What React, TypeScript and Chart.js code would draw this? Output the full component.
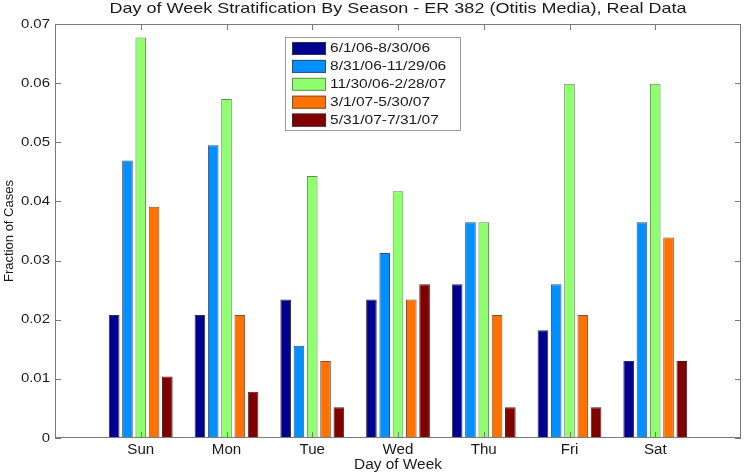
import React, { useEffect, useRef } from 'react';
import { Chart, registerables } from 'chart.js';

Chart.register(...registerables);

const days = ['Sun', 'Mon', 'Tue', 'Wed', 'Thu', 'Fri', 'Sat'];
const seasonLabels = ['6/1/06-8/30/06', '8/31/06-11/29/06', '11/30/06-2/28/07', '3/1/07-5/30/07', '5/31/07-7/31/07'];
const summer06 = [0.0208, 0.0208, 0.0234, 0.0234, 0.026, 0.0182, 0.013];
const fall06 = [0.0469, 0.0495, 0.0156, 0.0313, 0.0365, 0.026, 0.0365];
const winter07 = [0.0677, 0.0573, 0.0443, 0.0417, 0.0365, 0.0599, 0.0599];
const spring07 = [0.0391, 0.0208, 0.013, 0.0234, 0.0208, 0.0208, 0.0339];
const summer07 = [0.0104, 0.0078, 0.0052, 0.026, 0.0052, 0.0052, 0.013];
const yTicks = [0, 0.01, 0.02, 0.03, 0.04, 0.05, 0.06, 0.07];
const seriesColors = ['#00008F', '#0090FF', '#8FFF6F', '#FF7200', '#800000'];
const seriesBorders = ['#303050', '#305070', '#609050', '#805030', '#502020'];

const titleText = 'Day of Week Stratification By Season - ER 382 (Otitis Media), Real Data';
const xTitle = 'Day of Week';
const yTitle = 'Fraction of Cases';

const FONT = '"Liberation Sans", Arial, Helvetica, sans-serif';

function sText(ctx: CanvasRenderingContext2D, t: string, x: number, y: number, align: CanvasTextAlign, size: number, sx: number) {
  ctx.save();
  ctx.translate(x, y);
  ctx.scale(sx, 1);
  ctx.font = `${size}px ${FONT}`;
  ctx.textAlign = align;
  ctx.textBaseline = 'middle';
  ctx.fillStyle = '#1a1a1a';
  ctx.fillText(t, 0, 0);
  ctx.restore();
}

const decorPlugin = {
  id: 'matlabDecor',
  afterDraw(chart: any) {
    const { ctx, chartArea: a, scales } = chart;
    const xs = scales.x;
    const ys = scales.y;
    ctx.save();
    // box
    ctx.strokeStyle = '#7a7a7a';
    ctx.lineWidth = 1;
    ctx.strokeRect(a.left + 0.5, a.top + 0.5, a.right - a.left - 1, a.bottom - a.top - 1);
    // inward ticks
    ctx.beginPath();
    days.forEach((_, i) => {
      const px = Math.round(xs.getPixelForValue(i + 1)) + 0.5;
      ctx.moveTo(px, a.bottom);
      ctx.lineTo(px, a.bottom - 6);
      ctx.moveTo(px, a.top);
      ctx.lineTo(px, a.top + 6);
    });
    yTicks.forEach((v) => {
      const py = Math.round(ys.getPixelForValue(v)) + 0.5;
      ctx.moveTo(a.left, py);
      ctx.lineTo(a.left + 6, py);
      ctx.moveTo(a.right, py);
      ctx.lineTo(a.right - 6, py);
    });
    ctx.stroke();
    // tick labels
    yTicks.forEach((v) => {
      sText(ctx, v === 0 ? '0' : v.toFixed(2), a.left - 5, ys.getPixelForValue(v), 'right', 13, 1.15);
    });
    days.forEach((d, i) => {
      sText(ctx, d, xs.getPixelForValue(i + 1), a.bottom + 12, 'center', 14, 1.08);
    });
    // titles
    const cx = (a.left + a.right) / 2;
    sText(ctx, titleText, cx, 9, 'center', 15, 1.2);
    sText(ctx, xTitle, cx, a.bottom + 27, 'center', 14, 1.1);
    ctx.save();
    ctx.translate(9, (a.top + a.bottom) / 2);
    ctx.rotate(-Math.PI / 2);
    ctx.font = `13px ${FONT}`;
    ctx.textAlign = 'center';
    ctx.textBaseline = 'middle';
    ctx.fillStyle = '#1a1a1a';
    ctx.fillText(yTitle, 0, 0);
    ctx.restore();
    // legend
    const lx = 285, ly = 37, lw = 175, lh = 93;
    ctx.fillStyle = '#ffffff';
    ctx.fillRect(lx, ly, lw, lh);
    ctx.strokeStyle = '#9a9a9a';
    ctx.strokeRect(lx + 0.5, ly + 0.5, lw, lh);
    chart.data.datasets.forEach((ds: any, i: number) => {
      const rowY = ly + 11.5 + i * 17.9;
      ctx.fillStyle = ds.backgroundColor;
      ctx.fillRect(lx + 7, rowY - 6.5, 34, 13);
      ctx.strokeStyle = ds.borderColor;
      ctx.strokeRect(lx + 7.5, rowY - 6, 33, 12);
      sText(ctx, ds.label, lx + 45, rowY, 'left', 13.5, 1.15);
    });
    ctx.restore();
  },
};

export default function App() {
  const ref = useRef<HTMLCanvasElement>(null);
  useEffect(() => {
    document.body.style.margin = '0';
    const seriesData = [summer06, fall06, winter07, spring07, summer07];
    const chart = new Chart(ref.current!, {
      type: 'bar',
      data: {
        datasets: seriesData.map((vals, si) => ({
          label: seasonLabels[si],
          data: vals.map((v, i) => ({ x: i + 1, y: v })),
          backgroundColor: seriesColors[si],
          borderColor: seriesBorders[si],
          borderWidth: 1,
          categoryPercentage: 0.775,
          barPercentage: 0.8,
        })),
      },
      options: {
        animation: false,
        responsive: false,
        maintainAspectRatio: false,
        layout: { padding: { left: 0, right: 3, top: 24, bottom: 0 } },
        plugins: { legend: { display: false }, title: { display: false }, tooltip: { enabled: false } },
        scales: {
          x: {
            type: 'linear',
            min: 0,
            max: 8,
            offset: false,
            afterBuildTicks: (s: any) => {
              s.ticks = days.map((_, i) => ({ value: i + 1 }));
            },
            ticks: { display: false },
            grid: { display: false, drawTicks: false },
            border: { display: false },
            afterFit: (s: any) => {
              s.height = 35;
            },
          },
          y: {
            min: 0,
            max: 0.07,
            afterBuildTicks: (s: any) => {
              s.ticks = yTicks.map((v) => ({ value: v }));
            },
            ticks: { display: false },
            grid: { display: false, drawTicks: false },
            border: { display: false },
            afterFit: (s: any) => {
              s.width = 55;
            },
          },
        },
      },
      plugins: [decorPlugin],
    } as any);
    return () => chart.destroy();
  }, []);
  return (
    <div style={{ width: 744, height: 473, background: '#fff' }}>
      <canvas ref={ref} width={744} height={473} style={{ display: 'block' }} />
    </div>
  );
}
